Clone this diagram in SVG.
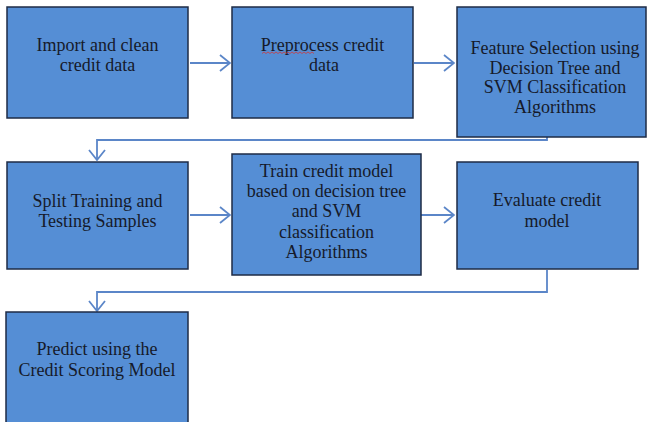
<svg xmlns="http://www.w3.org/2000/svg" width="647" height="422" viewBox="0 0 647 422">
<defs>
<style>
.box{fill:#558ED5;stroke:#1E2B45;stroke-width:1.5}
.lbl{font-family:"Liberation Serif","Times New Roman",serif;font-size:18px;fill:#151a2a;text-anchor:middle}
.con{fill:none;stroke:#5B86C8;stroke-width:1.8}
</style>
<marker id="arr" markerUnits="userSpaceOnUse" viewBox="0 0 12 18" refX="11" refY="9" markerWidth="12" markerHeight="18" orient="auto">
<path d="M1,1 L11,9 L1,17" fill="none" stroke="#5B86C8" stroke-width="1.8"/>
</marker>
</defs>
<rect width="647" height="422" fill="#ffffff"/>
<g id="connectors">
<line class="con" x1="190" y1="63" x2="230" y2="63" marker-end="url(#arr)"/>
<line class="con" x1="414" y1="63" x2="454" y2="63" marker-end="url(#arr)"/>
<path class="con" d="M547,137 V140 H97 V160" marker-end="url(#arr)"/>
<line class="con" x1="190" y1="215" x2="230" y2="215" marker-end="url(#arr)"/>
<line class="con" x1="421" y1="215" x2="454" y2="215" marker-end="url(#arr)"/>
<path class="con" d="M547,270 V292 H97 V311" marker-end="url(#arr)"/>
</g>
<g id="n1">
<rect class="box" x="7" y="7" width="181" height="111"/>
<text class="lbl" x="97.5" y="51">Import and clean</text>
<text class="lbl" x="97.5" y="71">credit data</text>
</g>
<g id="n2">
<rect class="box" x="232" y="7" width="181" height="111"/>
<text class="lbl" x="322.5" y="51">Preprocess credit</text>
<text class="lbl" x="324" y="71">data</text>
<path d="M262,53.5 l2,-1.5 l2,1.5 l2,-1.5 l2,1.5 l2,-1.5 l2,1.5 l2,-1.5 l2,1.5 l2,-1.5 l2,1.5 l2,-1.5 l2,1.5 l2,-1.5 l2,1.5 l2,-1.5 l2,1.5 l2,-1.5 l2,1.5 l2,-1.5 l2,1.5 l2,-1.5 l2,1.5 l2,-1.5 l2,1.5 l2,-1.5 l2,1.5" fill="none" stroke="#d03a3a" stroke-width="0.8"/>
</g>
<g id="n3">
<rect class="box" x="457" y="7" width="189" height="130"/>
<text class="lbl" x="555" y="54">Feature Selection using</text>
<text class="lbl" x="555" y="73.5">Decision Tree and</text>
<text class="lbl" x="555" y="93">SVM Classification</text>
<text class="lbl" x="555" y="112.5">Algorithms</text>
</g>
<g id="n4">
<rect class="box" x="7" y="162" width="181" height="107"/>
<text class="lbl" x="97.5" y="207">Split Training and</text>
<text class="lbl" x="97.5" y="227">Testing Samples</text>
</g>
<g id="n5">
<rect class="box" x="232" y="154" width="189" height="121"/>
<text class="lbl" x="326.5" y="177">Train credit model</text>
<text class="lbl" x="326.5" y="197">based on decision tree</text>
<text class="lbl" x="326.5" y="217">and SVM</text>
<text class="lbl" x="326.5" y="237.5">classification</text>
<text class="lbl" x="326.5" y="258">Algorithms</text>
</g>
<g id="n6">
<rect class="box" x="457" y="162" width="181" height="107"/>
<text class="lbl" x="547" y="206">Evaluate credit</text>
<text class="lbl" x="547" y="227">model</text>
</g>
<g id="n7">
<rect class="box" x="6" y="312" width="182" height="120"/>
<text class="lbl" x="97" y="355">Predict using the</text>
<text class="lbl" x="97" y="376">Credit Scoring Model</text>
</g>
</svg>
